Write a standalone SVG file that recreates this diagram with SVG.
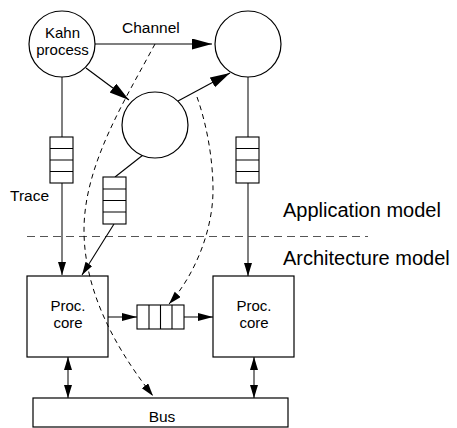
<svg xmlns="http://www.w3.org/2000/svg" width="457" height="428" viewBox="0 0 457 428">
<style>
text{font-family:"Liberation Sans",Arial,sans-serif;fill:#000}
.s{font-size:15.5px}
.t{font-size:15px}
.b{font-size:20px}
.n{fill:#fff;stroke:#000;stroke-width:1.2}
.g{stroke:#555;stroke-width:1.5;fill:none}
.k{stroke:#000;stroke-width:1.1;fill:none}
.d{stroke:#000;stroke-width:1;fill:none;stroke-dasharray:5,4}
.q{fill:#fff;stroke:#000;stroke-width:1.1}
</style>
<defs>
<marker id="aL" markerUnits="userSpaceOnUse" markerWidth="20" markerHeight="12" refX="20" refY="5.5" orient="auto"><path d="M0,0 L20,5.5 L0,11 z" fill="#000"/></marker>
<marker id="aM" markerUnits="userSpaceOnUse" markerWidth="15" markerHeight="9" refX="15" refY="4" orient="auto"><path d="M0,0 L15,4 L0,8 z" fill="#000"/></marker>
<marker id="aS" markerUnits="userSpaceOnUse" markerWidth="13" markerHeight="9" refX="13" refY="4" orient="auto-start-reverse"><path d="M0,0 L13,4 L0,8 z" fill="#000"/></marker>
</defs>
<g id="separator">
<line x1="27" y1="236.5" x2="368" y2="236.5" stroke="#555" stroke-width="1.2" stroke-dasharray="8,5"/>
<text class="b" x="283" y="217">Application model</text>
<text class="b" x="283" y="265">Architecture model</text>
</g>
<g id="connectors">
<line class="g" x1="95" y1="44" x2="212" y2="44" marker-end="url(#aL)"/>
<text class="s" x="122" y="33">Channel</text>
<line class="k" x1="86" y1="68" x2="129" y2="100" marker-end="url(#aL)"/>
<line class="k" x1="178" y1="101" x2="230" y2="73" marker-end="url(#aL)"/>
<line class="g" x1="62" y1="77" x2="62" y2="275" marker-end="url(#aS)"/>
<line class="g" x1="248" y1="77" x2="248" y2="276" marker-end="url(#aS)"/>
<line class="k" x1="143" y1="155" x2="115" y2="177"/>
<line class="k" x1="114" y1="224" x2="82" y2="275" marker-end="url(#aS)"/>
<line class="g" x1="108" y1="317" x2="137" y2="317" marker-end="url(#aM)"/>
<line class="g" x1="184" y1="317" x2="213" y2="317" marker-end="url(#aM)"/>
<line class="g" x1="68" y1="357" x2="68" y2="398" marker-start="url(#aS)" marker-end="url(#aS)"/>
<line class="g" x1="254" y1="357" x2="254" y2="398" marker-start="url(#aS)" marker-end="url(#aS)"/>
<path class="d" d="M155,44 C125,100 84,165 84,230 C84,300 125,360 153,396" marker-end="url(#aS)"/>
<path class="d" d="M197,97 C207,125 213,160 213,190 C213,230 195,275 169,304" marker-end="url(#aS)"/>
<text class="s" x="10" y="201">Trace</text>
</g>
<g id="kahn">
<circle class="n" cx="62" cy="44" r="33"/>
<text class="t" x="62.5" y="37.5" text-anchor="middle">Kahn</text>
<text class="t" x="62.5" y="54.5" text-anchor="middle">process</text>
</g>
<g id="p2"><circle class="n" cx="248" cy="44" r="33"/></g>
<g id="p3"><circle class="n" cx="155" cy="125" r="33"/></g>
<g id="q1">
<rect class="q" x="50" y="137" width="23" height="46"/>
<path class="k" d="M50,148.5 H73 M50,160 H73 M50,171.5 H73"/>
</g>
<g id="q2">
<rect class="q" x="236" y="137" width="23" height="46"/>
<path class="k" d="M236,148.5 H259 M236,160 H259 M236,171.5 H259"/>
</g>
<g id="q3">
<rect class="q" x="103" y="177" width="23" height="47"/>
<path class="k" d="M103,189 H126 M103,200.5 H126 M103,212 H126"/>
</g>
<g id="q4">
<rect class="q" x="137" y="305" width="47" height="24"/>
<path class="k" d="M149,305 V329 M160.5,305 V329 M172,305 V329"/>
</g>
<g id="core1">
<rect class="n" x="27" y="276" width="81" height="81" style="fill:none"/>
<text class="t" x="68" y="310.5" text-anchor="middle">Proc.</text>
<text class="t" x="68" y="327.5" text-anchor="middle">core</text>
</g>
<g id="core2">
<rect class="n" x="213" y="276" width="81" height="81" style="fill:none"/>
<text class="t" x="254" y="310.5" text-anchor="middle">Proc.</text>
<text class="t" x="254" y="327.5" text-anchor="middle">core</text>
</g>
<g id="bus">
<rect class="n" x="33" y="398" width="255" height="29"/>
<text class="s" x="162" y="422" text-anchor="middle">Bus</text>
</g>
</svg>
